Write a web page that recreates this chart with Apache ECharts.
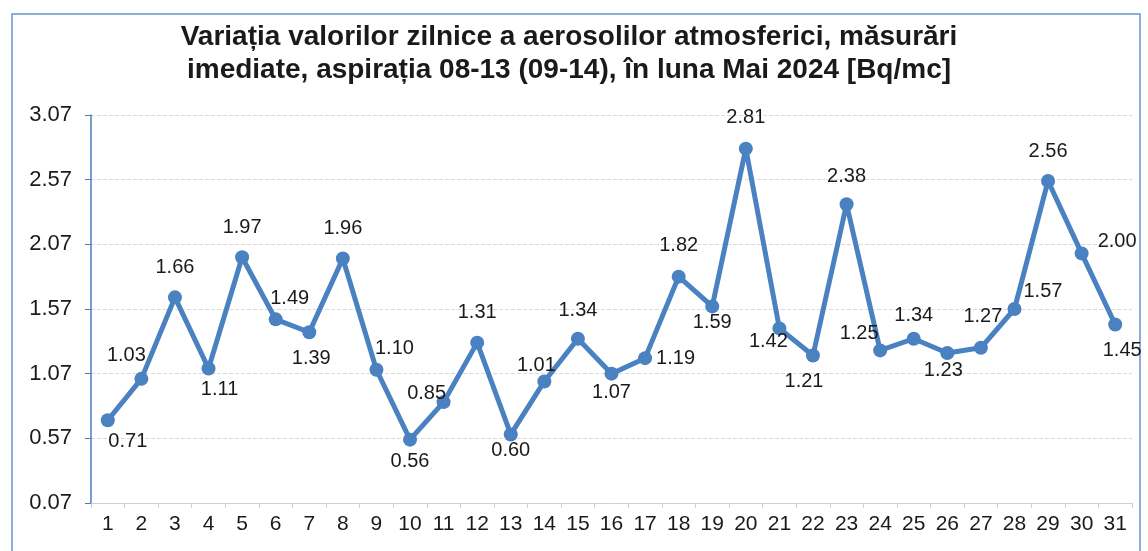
<!DOCTYPE html>
<html>
<head>
<meta charset="utf-8">
<script src="https://cdn.jsdelivr.net/npm/echarts@6/dist/echarts.min.js"></script>
<style>
  html, body { margin: 0; padding: 0; background: #fff; }
  #chart { width: 1148px; height: 551px; }
</style>
</head>
<body>
<div id="chart"></div>
<script>
const days = ['1','2','3','4','5','6','7','8','9','10','11','12','13','14','15','16','17','18','19','20','21','22','23','24','25','26','27','28','29','30','31'];
const values = [0.71, 1.03, 1.66, 1.11, 1.97, 1.49, 1.39, 1.96, 1.10, 0.56, 0.85, 1.31, 0.60, 1.01, 1.34, 1.07, 1.19, 1.82, 1.59, 2.81, 1.42, 1.21, 2.38, 1.25, 1.34, 1.23, 1.27, 1.57, 2.56, 2.00, 1.45];
const yTicks = [0.07, 0.57, 1.07, 1.57, 2.07, 2.57, 3.07];

// where each value label sits relative to its point (style only)
const labelPlace = [
  ['bottom', [20, 0]], ['top', [-15, -2]], ['top', [0, -9]], ['bottom', [11, 0]],
  ['top', [0, -9]], ['top', [14, 0]], ['bottom', [2, 5]], ['top', [0, -9]],
  ['top', [18, 0]], ['bottom', [0, 1]], ['top', [-17, 12]], ['top', [0, -9]],
  ['bottom', [0, -5]], ['top', [-8, 5]], ['top', [0, -7]], ['bottom', [0, -2]],
  ['right', [0, 0]], ['top', [0, -10]], ['bottom', [0, -5]], ['top', [0, -10]],
  ['bottom', [-11, -8]], ['bottom', [-9, 5]], ['top', [0, -7]], ['top', [-21, 4]],
  ['top', [0, -2]], ['bottom', [-4, -3]], ['top', [2, -10]], ['right', [-2, -18]],
  ['top', [0, -8]], ['right', [5, -12]], ['bottom', [7, 5]]
];

const chart = echarts.init(document.getElementById('chart'));

const font = '"Liberation Sans", Arial, sans-serif';

chart.setOption({
  animation: false,
  backgroundColor: '#fff',
  graphic: [{
    type: 'rect',
    shape: { x: 12, y: 14, width: 1128, height: 560 },
    style: { fill: 'none', stroke: '#6793c9', lineWidth: 1.5 },
    silent: true
  }],
  title: {
    text: 'Variația valorilor zilnice a aerosolilor atmosferici, măsurări\nimediate, aspirația 08-13 (09-14), în luna Mai 2024 [Bq/mc]',
    left: 564,
    top: 16,
    textAlign: 'center',
    textStyle: {
      fontFamily: font,
      fontWeight: 'bold',
      fontSize: 28,
      lineHeight: 33,
      color: '#1a1a1a'
    }
  },
  grid: { left: 91, right: 16, top: 115, bottom: 48, containLabel: false },
  xAxis: {
    type: 'category',
    data: days,
    boundaryGap: true,
    axisLine: { lineStyle: { color: '#d0d0d0', width: 1 } },
    axisTick: { show: true, length: 5, lineStyle: { color: '#d0d0d0' } },
    axisLabel: { fontFamily: font, fontSize: 21, color: '#1a1a1a', margin: 11, interval: 0 }
  },
  yAxis: {
    type: 'value',
    min: yTicks[0],
    max: yTicks[yTicks.length - 1],
    interval: 0.5,
    axisLine: { show: true, lineStyle: { color: '#4a7ebb', width: 1.5 } },
    axisTick: { show: true, length: 6, lineStyle: { color: '#4a7ebb' } },
    axisLabel: {
      fontFamily: font, fontSize: 22, color: '#1a1a1a', margin: 19,
      formatter: v => v.toFixed(2)
    },
    splitLine: { show: true, lineStyle: { color: '#dadada', type: 'dashed', width: 1 } }
  },
  series: [{
    type: 'line',
    data: values.map((v, i) => ({
      value: v,
      label: { position: labelPlace[i][0], offset: labelPlace[i][1] }
    })),
    symbol: 'circle',
    symbolSize: 14,
    lineStyle: { color: '#4a81c0', width: 5 },
    itemStyle: { color: '#4a81c0' },
    label: {
      show: true,
      fontFamily: font,
      fontSize: 20,
      color: '#1a1a1a',
      distance: 4,
      formatter: p => p.value.toFixed(2)
    }
  }]
});
</script>
</body>
</html>
